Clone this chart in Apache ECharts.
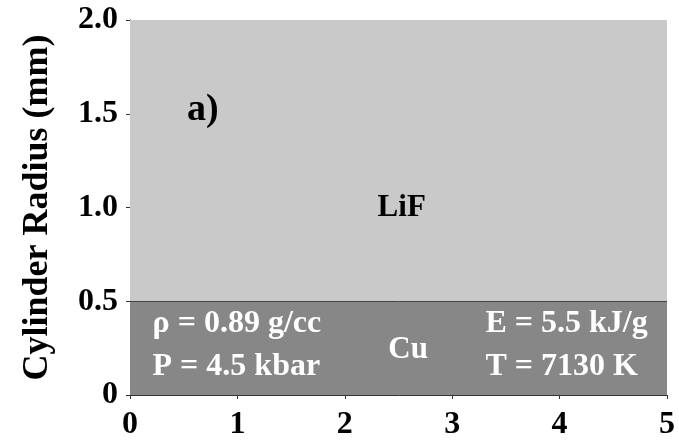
<!DOCTYPE html>
<html>
<head>
<meta charset="utf-8">
<script src="https://cdn.jsdelivr.net/npm/echarts@6/dist/echarts.min.js"></script>
<style>
  html, body { margin: 0; padding: 0; background: #fff; }
  #chart { width: 679px; height: 442px; }
</style>
</head>
<body>
<div id="chart"></div>
<script>
  // layers of the cylinder (radius in mm)
  var layerNames = ['Cu', 'LiF'];
  var layerBottoms = [0, 0.5];
  var layerTops = [0.5, 2.0];
  var layerColors = ['#878787', '#c9c9c9'];

  // annotations: text, x, y
  var noteTexts = ['a)', 'LiF', 'Cu', 'ρ = 0.89 g/cc', 'P = 4.5 kbar', 'E = 5.5 kJ/g', 'T = 7130 K'];
  var noteX = [0.53, 2.53, 2.59, 0.21, 0.21, 3.31, 3.31];
  var noteY = [1.52, 1.0, 0.24, 0.38, 0.15, 0.38, 0.15];
  var noteColors = ['#000', '#000', '#fff', '#fff', '#fff', '#fff', '#fff'];
  var noteAlign = ['left', 'center', 'center', 'left', 'left', 'left', 'left'];
  var noteSizes = [38, 31, 31, 32, 32, 32, 32];

  var xTicks = [0, 1, 2, 3, 4, 5];
  var yTicks = ['0', '0.5', '1.0', '1.5', '2.0'];

  var font = '"Liberation Serif", "Times New Roman", serif';
  var myChart = echarts.init(document.getElementById('chart'));

  var areas = layerNames.map(function (n, i) {
    return [{
      yAxis: layerBottoms[i],
      xAxis: xTicks[0],
      itemStyle: { color: layerColors[i], opacity: 1 }
    }, {
      yAxis: layerTops[i],
      xAxis: xTicks[xTicks.length - 1]
    }];
  });

  var notes = noteTexts.map(function (t, i) {
    return {
      value: [noteX[i], noteY[i]],
      label: {
        show: true,
        formatter: t,
        color: noteColors[i],
        align: noteAlign[i],
        fontSize: noteSizes[i]
      }
    };
  });

  var option = {
    animation: false,
    backgroundColor: '#fff',
    grid: { left: 130, right: 12, top: 20, bottom: 47 },
    xAxis: {
      type: 'value',
      min: 0,
      max: 5,
      interval: 1,
      splitLine: { show: false },
      axisLine: { show: true, lineStyle: { color: '#333', width: 1 } },
      axisTick: { show: true, length: 4, lineStyle: { color: '#333' } },
      axisLabel: {
        margin: 14,
        fontFamily: font,
        fontWeight: 'bold',
        fontSize: 32,
        color: '#000',
        formatter: function (v) { return xTicks.indexOf(v) >= 0 ? String(v) : ''; }
      }
    },
    yAxis: {
      type: 'value',
      min: 0,
      max: 2,
      interval: 0.5,
      name: 'Cylinder Radius (mm)',
      nameLocation: 'middle',
      nameGap: 74,
      nameTextStyle: { fontFamily: font, fontWeight: 'bold', fontSize: 36, color: '#000' },
      splitLine: { show: false },
      axisLine: { show: true, lineStyle: { color: '#333', width: 1 } },
      axisTick: { show: true, length: 4, lineStyle: { color: '#333' } },
      axisLabel: {
        margin: 12,
        fontFamily: font,
        fontWeight: 'bold',
        fontSize: 32,
        color: '#000',
        formatter: function (v) { return yTicks[Math.round(v / 0.5)]; }
      }
    },
    series: [{
      type: 'scatter',
      symbolSize: 0,
      silent: true,
      z: 5,
      itemStyle: { opacity: 1 },
      label: {
        show: true,
        position: 'inside',
        fontFamily: font,
        fontWeight: 'bold',
        verticalAlign: 'middle'
      },
      data: notes,
      markArea: {
        silent: true,
        data: areas
      },
      markLine: {
        silent: true,
        symbol: 'none',
        label: { show: false },
        lineStyle: { color: '#444', type: 'solid', width: 1 },
        data: [{ yAxis: layerTops[0] }]
      }
    }]
  };
  myChart.setOption(option);
</script>
</body>
</html>
